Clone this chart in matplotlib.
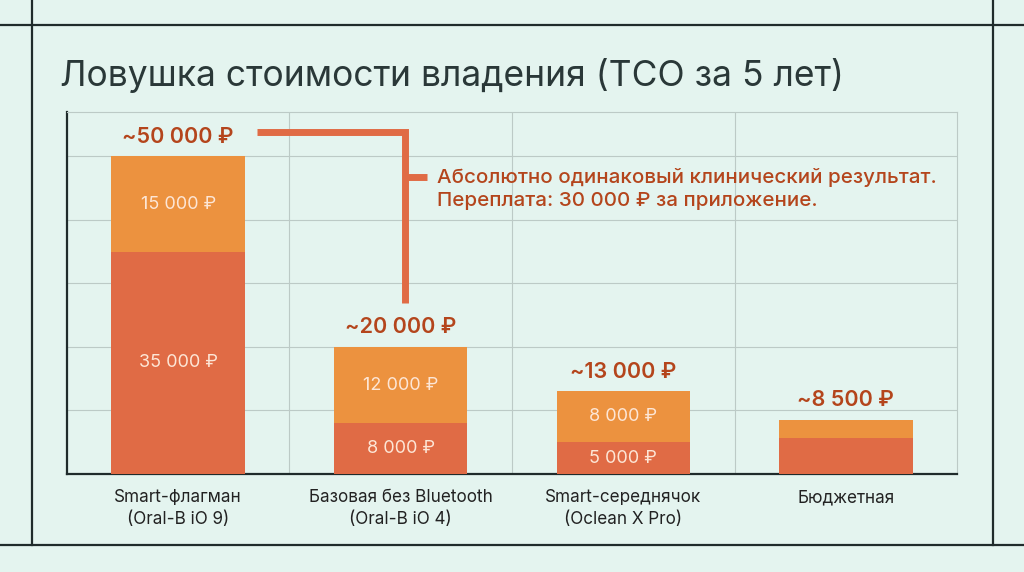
"""Ловушка стоимости владения: stacked TCO bars for four toothbrushes."""

from matplotlib import pyplot as plt
from matplotlib.lines import Line2D

plt.rcParams['font.family'] = ['Inter', 'DejaVu Sans']

categories = ['Smart-флагман\n(Oral-B iO 9)',
              'Базовая без Bluetooth\n(Oral-B iO 4)',
              'Smart-середнячок\n(Oclean X Pro)',
              'Бюджетная']
base_cost = [35000, 8000, 5000, 5600]
extra_cost = [15000, 12000, 8000, 2900]
base_labels = ['35 000 ₽', '8 000 ₽', '5 000 ₽', '']
extra_labels = ['15 000 ₽', '12 000 ₽', '8 000 ₽', '']
total_labels = ['~50 000 ₽', '~20 000 ₽', '~13 000 ₽', '~8 500 ₽']
note = ('Абсолютно одинаковый клинический результат.\n'
        'Переплата: 30 000 ₽ за приложение.')

bg = '#e4f4ef'
red = '#e06b45'
orange = '#ec923f'
text_red = '#b4451c'
dark = '#1f2b2b'
grid = '#bccac6'

fig = plt.figure(figsize=(10.24, 5.72), dpi=100, facecolor=bg)

# outer frame lines
fig.add_artist(Line2D([0, 1], [0.956, 0.956], color=dark, lw=1.6))
fig.add_artist(Line2D([0, 1], [0.047, 0.047], color=dark, lw=1.6))
fig.add_artist(Line2D([0.031, 0.031], [0.047, 1], color=dark, lw=1.6))
fig.add_artist(Line2D([0.970, 0.970], [0.047, 1], color=dark, lw=1.6))

fig.text(0.059, 0.868, 'Ловушка стоимости владения (TCO за 5 лет)',
         fontsize=25.5, color='#2a3838', va='center', ha='left')

ax = fig.add_axes([0.0654, 0.1713, 0.8692, 0.633])
ax.set_facecolor(bg)

x = list(range(len(categories)))
totals = [b + e for b, e in zip(base_cost, extra_cost)]
ax.bar(x, base_cost, width=0.6, color=red, zorder=3)
ax.bar(x, extra_cost, width=0.6, bottom=base_cost, color=orange, zorder=3)

for i in x:
    if base_labels[i]:
        ax.text(i, base_cost[i] / 2, base_labels[i], ha='center', va='center',
                color='#fde6d6', fontsize=13, zorder=4)
    if extra_labels[i]:
        ax.text(i, base_cost[i] + extra_cost[i] / 2, extra_labels[i],
                ha='center', va='center', color='#fde6d6', fontsize=13, zorder=4)
    ax.text(i, totals[i] + 1500, total_labels[i], ha='center', va='bottom',
            color=text_red, fontsize=15.5, fontweight='semibold', zorder=4)

ax.set_xlim(-0.5, 3.5)
ax.set_ylim(0, 57000)
ax.set_yticks(range(10000, 50001, 10000))
ax.set_xticks([0.5, 1.5, 2.5], minor=True)
ax.grid(True, which='minor', axis='x', color=grid, lw=0.8, zorder=0)
ax.grid(True, which='major', axis='y', color=grid, lw=0.8, zorder=0)
ax.set_xticks(x)
ax.set_xticklabels(categories, fontsize=12.3, color='#222222', linespacing=1.4)
ax.tick_params(axis='x', which='both', length=0, pad=11)
ax.tick_params(axis='y', length=0, labelleft=False)

for side in ['top', 'right']:
    ax.spines[side].set_color(grid)
    ax.spines[side].set_linewidth(0.8)
for side in ['left', 'bottom']:
    ax.spines[side].set_color(dark)
    ax.spines[side].set_linewidth(1.6)

# bracket linking the two Oral-B bars
top_y = totals[0] + 3800
bot_y = totals[1] + 7000
ax.plot([0.354, 1.02, 1.02], [top_y, top_y, bot_y], color=red, lw=5,
        solid_capstyle='butt', solid_joinstyle='miter', zorder=5)
ax.plot([1.02, 1.118], [46700, 46700], color=red, lw=5,
        solid_capstyle='butt', zorder=5)
ax.text(1.165, 44800, note, ha='left', va='center', color=text_red,
        fontsize=14.8, fontweight='medium', linespacing=1.35, zorder=5)

fig.savefig('out.png', dpi=100, facecolor=bg)
